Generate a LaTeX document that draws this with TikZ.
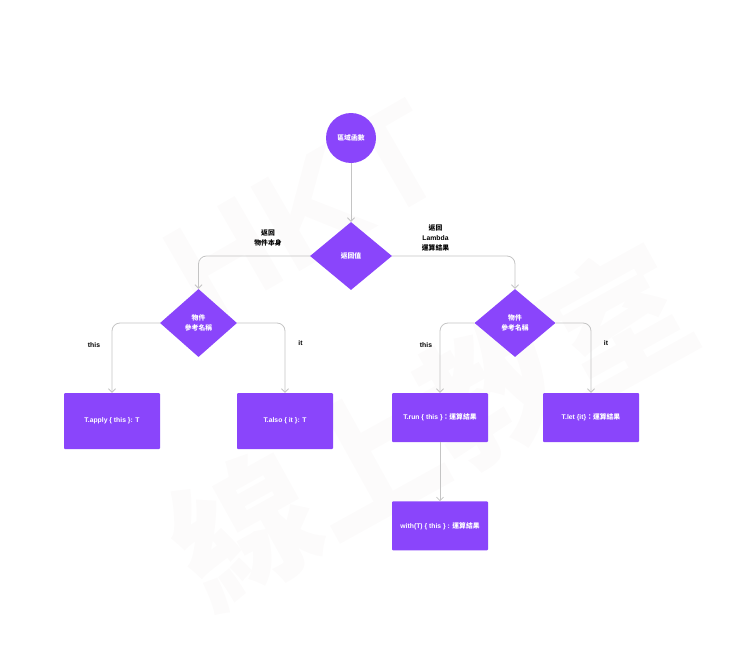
\documentclass[tikz,border=0pt]{standalone}
\usepackage{fontspec}
\setmainfont{Liberation Sans}
\newfontfamily\cjk{Noto Sans CJK TC}
\usetikzlibrary{positioning,shapes.geometric,arrows.meta}
\definecolor{kpurple}{HTML}{8A45FB}
\definecolor{kline}{HTML}{C4C4C4}
\definecolor{kmark}{HTML}{FCFBFB}
\begin{document}
\begin{tikzpicture}[
     x=1pt, y=-1pt,
     node distance = 10pt and 10pt,
     every node/.style = {font=\fontsize{6.8}{10}\selectfont\bfseries, align=center},
     circ/.style = {circle, fill=kpurple, text=white, inner sep=0pt, minimum size=50pt},
     dia/.style = {diamond, fill=kpurple, text=white, inner sep=0pt, aspect=1.2, minimum height=68pt},
     rbox/.style = {rectangle, fill=kpurple, text=white, rounded corners=1pt, minimum width=96pt, inner sep=0pt},
     note/.style = {text=black, inner sep=0pt},
     wmark/.style = {text=kmark, inner sep=0pt, font=\bfseries\fontsize{142}{142}\selectfont},
     link/.style = {draw=kline, line width=0.8pt, rounded corners=8pt, -{Straight Barb[length=3.5pt,width=7pt]}}
                        ]
\useasboundingbox (0,0) rectangle (740,656);
% watermark
\node (wm1) [wmark, rotate=30] at (305,212) {HKT};
\node (wm2) [wmark, rotate=29] at (430,425) {\cjk 線上教室};
% top
\node (scope) [circ] at (351,138) {\cjk 區域函數};
\node (ret)   [dia, minimum width=82pt] at (351,256) {\cjk 返回值};
% objects
\node (objl)  [dia, minimum width=77pt] at (198.5,323) {\cjk 物件\\\cjk 參考名稱};
\node (objr)  [dia, minimum width=81pt] at (515,323) {\cjk 物件\\\cjk 參考名稱};
% results
\node (apply) [rbox, minimum height=56pt] at (112,421) {T.apply \{ this \}: T};
\node (also)  [rbox, minimum height=56pt] at (285,421) {T.also \{ it \}: T};
\node (run)   [rbox, minimum height=49pt] at (440,417.5) {T.run \{ this \}{\cjk ：運算結果}};
\node (let)   [rbox, minimum height=49pt] at (591,417.5) {T.let \{it\}{\cjk ：運算結果}};
\node (with)  [rbox, minimum height=49pt, below=59pt of run] {with(T) \{ this \} : {\cjk 運算結果}};
% labels
\node (retobj) [note] at (268,238) {\cjk 返回\\\cjk 物件本身};
\node (retlam) [note] at (435.5,238) {\cjk 返回\\Lambda\\\cjk 運算結果};
\node (this1)  [note] at (94,345.5) {this};
\node (it1)    [note] at (300.5,343) {it};
\node (this2)  [note] at (426,345.5) {this};
\node (it2)    [note] at (606,343) {it};
\draw[link] (scope) to (ret);
\draw[link] (ret.west) -| (objl.north);
\draw[link] (ret.east) -| (objr.north);
\draw[link] (objl.west) -| (apply.north);
\draw[link] (objl.east) -| (also.north);
\draw[link] (objr.west) -| (run.north);
\draw[link] (objr.east) -| (let.north);
\draw[link] (run) to (with);
\end{tikzpicture}
\end{document}
